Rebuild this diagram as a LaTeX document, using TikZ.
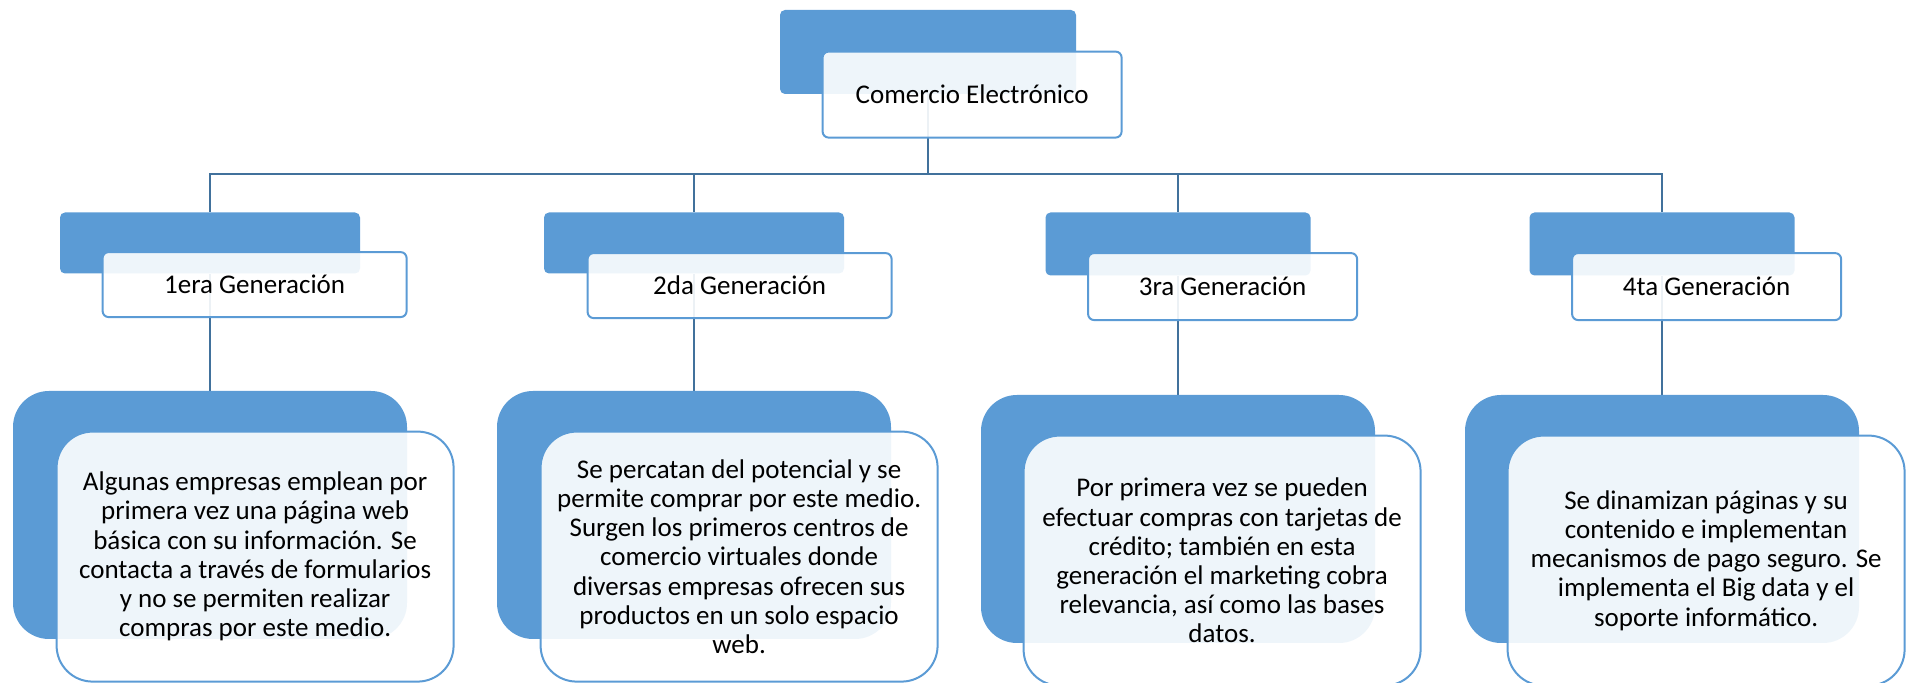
\documentclass[tikz,border=0pt]{standalone}
\usepackage{fontspec}
\setmainfont{Carlito}
\usetikzlibrary{positioning}
\usetikzlibrary{backgrounds}

\definecolor{smblue}{HTML}{5B9BD5}
\definecolor{smline}{HTML}{41719C}

\begin{document}
\begin{tikzpicture}[
    x=0.5pt, y=-0.5pt,
% Back boxes
    back/.style={rectangle,fill=smblue,rounded corners=2.5pt,inner sep=0pt},
    backbig/.style={back,rounded corners=18pt,minimum width=197pt,minimum height=124pt},
% Front boxes
    front/.style={rectangle,draw=smblue,line width=1pt,fill=white,fill opacity=0.9,
		text opacity=1,rounded corners=3pt,inner sep=0pt,align=center,
		font={\fontsize{13.5pt}{14.6pt}\selectfont}},
    frontbig/.style={front,rounded corners=18pt,minimum width=198.5pt,minimum height=125pt},
    font={\fontsize{13.5pt}{14.6pt}\selectfont}
    ]

  \tikzstyle{conn} = [smline,line width=1pt]

  \useasboundingbox (0,0) rectangle (1908,683);

  % top
  \node (rb) [back,minimum width=148pt,minimum height=42pt] at (928,52) {};
  \node (rw) [front,minimum width=149.5pt,minimum height=43pt,
	below right=20.5pt and 21pt of rb.north west] {Comercio Electrónico};

  % generations
  \node (gb1) [back,minimum width=150pt,minimum height=30.5pt] at (210,243) {};
  \node (gb2) [back,minimum width=150pt,minimum height=30.5pt] at (694,243) {};
  \node (gb3) [back,minimum width=132.5pt,minimum height=31.5pt] at (1178,244) {};
  \node (gb4) [back,minimum width=132.5pt,minimum height=31.5pt] at (1662,244) {};

  \node (gw1) [front,minimum width=152pt,minimum height=32.5pt,
	below right=19.5pt and 21pt of gb1.north west] {1era Generación};
  \node (gw2) [front,minimum width=152pt,minimum height=32.5pt,
	below right=20pt and 21.5pt of gb2.north west] {2da Generación};
  \node (gw3) [front,minimum width=134.5pt,minimum height=33.5pt,
	below right=20pt and 21pt of gb3.north west] {3ra Generación};
  \node (gw4) [front,minimum width=134.5pt,minimum height=33.5pt,
	below right=20pt and 21pt of gb4.north west] {4ta Generación};

  % descriptions
  \node (db1) [backbig] at (210,515) {};
  \node (db2) [backbig] at (694,515) {};
  \node (db3) [backbig] at (1178,519) {};
  \node (db4) [backbig] at (1662,519) {};

  \node (dw1) [frontbig,below right=20pt and 21.5pt of db1.north west]
	{Algunas empresas emplean por\\primera vez una página web\\básica con su información. Se\\contacta a través de formularios\\y no se permiten realizar\\compras por este medio.};
  \node (dw2) [frontbig,below right=20pt and 21.5pt of db2.north west]
	{Se percatan del potencial y se\\permite comprar por este medio.\\Surgen los primeros centros de\\comercio virtuales donde\\diversas empresas ofrecen sus\\productos en un solo espacio\\web.};
  \node (dw3) [frontbig,below right=20pt and 21pt of db3.north west]
	{Por primera vez se pueden\\efectuar compras con tarjetas de\\crédito; también en esta\\generación el marketing cobra\\relevancia, así como las bases\\datos.};
  \node (dw4) [frontbig,below right=20pt and 21pt of db4.north west]
	{Se dinamizan páginas y su\\contenido e implementan\\mecanismos de pago seguro. Se\\implementa el Big data y el\\soporte informático.};

\begin{pgfonlayer}{background}
  \coordinate (hub) at (928,174);
  \draw[conn] (rb.south) -- (hub);
  \draw[conn] (hub) -| (gb1.north);
  \draw[conn] (hub) -| (gb2.north);
  \draw[conn] (hub) -| (gb3.north);
  \draw[conn] (hub) -| (gb4.north);
  \draw[conn] (gb1.south) -- (db1.north);
  \draw[conn] (gb2.south) -- (db2.north);
  \draw[conn] (gb3.south) -- (db3.north);
  \draw[conn] (gb4.south) -- (db4.north);
\end{pgfonlayer}

\end{tikzpicture}
\end{document}
